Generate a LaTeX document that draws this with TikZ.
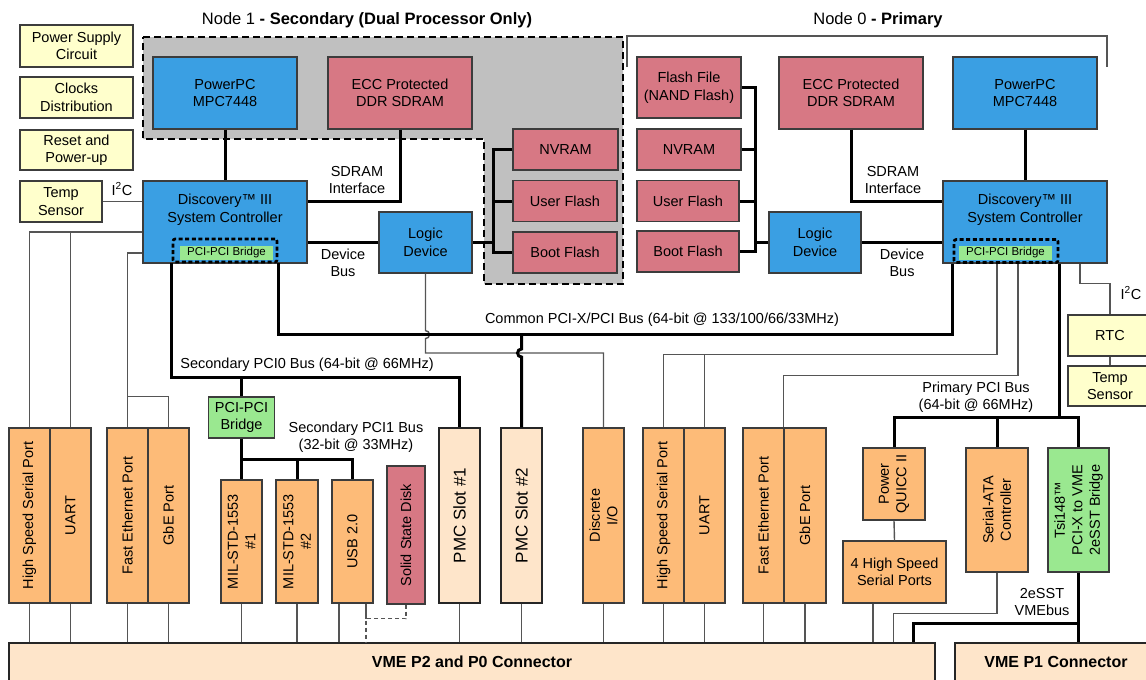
\documentclass[tikz,border=0pt]{standalone}
\usepackage{fontspec}
\setmainfont{Liberation Sans}
\usepackage{tikz}
\usetikzlibrary{
  positioning,
  calc
}
\definecolor{vbCPU}{HTML}{3A9FE3}
\definecolor{vbMem}{HTML}{D77884}
\definecolor{vbIO}{HTML}{FDBB78}
\definecolor{vbSlot}{HTML}{FEE5CA}
\definecolor{vbAux}{HTML}{FFFFCC}
\definecolor{vbBridge}{HTML}{9AE890}
\definecolor{vbZone}{HTML}{C0C0C0}
\definecolor{vbEdge}{HTML}{3C3C3C}
\definecolor{vbWire}{HTML}{555555}
\tikzset{
  vbnode/.style={
    draw=vbEdge, line width=1.2pt, inner sep=1pt, align=center,
    font=\fontsize{14.5}{17.5}\selectfont
  },
  cpu/.style={vbnode, fill=vbCPU, minimum width=144pt, minimum height=72pt},
  ctrl/.style={vbnode, fill=vbCPU, minimum width=164pt, minimum height=82pt},
  mem/.style={vbnode, fill=vbMem},
  aux/.style={vbnode, fill=vbAux},
  port/.style={vbnode, fill=vbIO},
  vport/.style={port, rotate=90, minimum width=175pt, minimum height=41pt},
  slot/.style={vbnode, fill=vbSlot, draw=black!85, rotate=90, minimum width=175pt,
    minimum height=41pt, font=\fontsize{17}{20}\selectfont},
  pcib/.style={vbnode, fill=vbBridge},
  bridgetag/.style={fill=vbBridge, inner sep=0pt, minimum width=93pt, minimum height=14pt,
    font=\fontsize{11.5}{14}\selectfont},
  bridgeframe/.style={draw=black, line width=2.6pt, dash pattern=on 4pt off 2.6pt,
    rounded corners=2pt, inner sep=0pt, minimum width=104pt, minimum height=23pt},
  vmeconn/.style={vbnode, fill=vbSlot, draw=black!85, minimum height=38pt,
    font=\bfseries\fontsize{16}{19}\selectfont},
  zone/.style={fill=vbZone, draw=black, line width=2.6pt, dash pattern=on 7pt off 4pt},
  title/.style={font=\fontsize{16.5}{20}\selectfont, inner sep=0pt},
  tag/.style={font=\fontsize{14.5}{17.5}\selectfont, align=center, inner sep=0pt},
  bus/.style={line width=3pt, black},
  wire/.style={line width=1.4pt, vbWire},
  optwire/.style={wire, dash pattern=on 4pt off 3pt}
}
\begin{document}
\begin{tikzpicture}[x=1pt, y=-1pt]
  \useasboundingbox (0,0) rectangle (1146,680);

  \draw[zone] (143,37) -- (623,37) -- (623,284) -- (484,284) -- (484,139) -- (143,139) -- cycle;
  \draw[wire] (627,67) |- (1107,36) -- (1107,67);
  \node[title] (ttlL) at (367,20) {Node 1 \textbf{- Secondary (Dual Processor Only)}};
  \node[title] (ttlR) at (878,20) {Node 0 \textbf{- Primary}};

  \node[aux, minimum width=113pt, minimum height=42pt] (psu) at (76.5,46) {Power Supply\\Circuit};
  \node[aux, minimum width=113pt, minimum height=41pt] (clk) at (76.5,97.5) {Clocks\\Distribution};
  \node[aux, minimum width=113pt, minimum height=40pt] (rst) at (76.5,150) {Reset and\\Power-up};
  \node[aux, minimum width=82pt, minimum height=41pt] (tempL) at (61,201.5) {Temp\\Sensor};

  \node[cpu] (ppcL) at (225,93) {PowerPC\\MPC7448};
  \node[mem, minimum width=144pt, minimum height=72pt] (eccL) at (400,93) {ECC Protected\\DDR SDRAM};
  \node[mem, minimum width=105pt, minimum height=41pt] (nvL) at (565.5,149.5) {NVRAM};
  \node[mem, minimum width=104pt, minimum height=41pt] (ufL) at (565,201) {User Flash};
  \node[mem, minimum width=104pt, minimum height=41pt] (bfL) at (565,252.5) {Boot Flash};
  \node[ctrl] (discL) at (225,222) {Discovery™ III\\System Controller\\[10pt]\mbox{}};
  \node[bridgeframe] (brfL) at (225,250.5) {};
  \node[bridgetag] (brL) at (226.5,253) {PCI-PCI Bridge};
  \node[cpu, minimum width=93pt, minimum height=61pt] (logL) at (425.5,242.5) {Logic\\Device};

  \node[mem, minimum width=104pt, minimum height=61pt] (nandR) at (689,87.5) {Flash File\\(NAND Flash)};
  \node[mem, minimum width=104pt, minimum height=41pt] (nvR) at (689,149.5) {NVRAM};
  \node[mem, minimum width=102pt, minimum height=41pt] (ufR) at (688,201) {User Flash};
  \node[mem, minimum width=102pt, minimum height=41pt] (bfR) at (688,251.5) {Boot Flash};
  \node[mem, minimum width=144pt, minimum height=72pt] (eccR) at (851,93) {ECC Protected\\DDR SDRAM};
  \node[cpu] (ppcR) at (1025,93) {PowerPC\\MPC7448};
  \node[cpu, minimum width=92pt, minimum height=61pt] (logR) at (815,242.5) {Logic\\Device};
  \node[ctrl] (discR) at (1025,222) {Discovery™ III\\System Controller\\[10pt]\mbox{}};
  \node[bridgeframe] (brfR) at (1006,251) {};
  \node[bridgetag] (brR) at (1005.5,253) {PCI-PCI Bridge};

  \node[tag] (sdrL) at (357,180) {SDRAM\\Interface};
  \node[tag] (dbL) at (343,263) {Device\\Bus};
  \node[tag] (sdrR) at (893,180) {SDRAM\\Interface};
  \node[tag] (dbR) at (902,263) {Device\\Bus};
  \node[tag] (i2cL) at (122,189) {I\textsuperscript{2}C};
  \node[tag] (i2cR) at (1131,293) {I\textsuperscript{2}C};
  \node[tag] (cbus) at (662,320) {Common PCI-X/PCI Bus (64-bit @ 133/100/66/33MHz)};
  \node[tag] (s0bus) at (307,365) {Secondary PCI0 Bus (64-bit @ 66MHz)};
  \node[tag] (s1bus) at (356,437) {Secondary PCI1 Bus\\(32-bit @ 33MHz)};
  \node[tag] (pbus) at (976,397) {Primary PCI Bus\\(64-bit @ 66MHz)};
  \node[tag] (vbus) at (1042,602) {2eSST\\VMEbus};

  \node[vport] (hssL) at (29.5,515.5) {High Speed Serial Port};
  \node[vport] (uartL) at (70.5,515.5) {UART};
  \node[vport] (feL) at (127.5,515.5) {Fast Ethernet Port};
  \node[vport] (gbeL) at (168.5,515.5) {GbE Port};
  \node[pcib, minimum width=66pt, minimum height=41pt] (pbr) at (241.5,417.5) {PCI-PCI\\Bridge};
  \node[port, rotate=90, minimum width=123pt, minimum height=41pt] (mil1) at (241.5,541.5) {MIL-STD-1553\\\#1};
  \node[port, rotate=90, minimum width=123pt, minimum height=42pt] (mil2) at (297,541.5) {MIL-STD-1553\\\#2};
  \node[port, rotate=90, minimum width=123pt, minimum height=41pt] (usb) at (352.5,541.5) {USB 2.0};
  \node[mem, rotate=90, minimum width=138pt, minimum height=38pt] (ssd) at (406,535) {Solid State Disk};
  \node[slot] (pmc1) at (459.5,515.5) {PMC Slot \#1};
  \node[slot] (pmc2) at (521.5,515.5) {PMC Slot \#2};
  \node[vport] (dio) at (603.5,515.5) {Discrete\\I/O};
  \node[vport] (hssR) at (663.5,515.5) {High Speed Serial Port};
  \node[vport] (uartR) at (704.5,515.5) {UART};
  \node[vport] (feR) at (763.5,515.5) {Fast Ethernet Port};
  \node[vport, minimum height=42pt] (gbeR) at (805,515.5) {GbE Port};
  \node[port, rotate=90, minimum width=72pt, minimum height=62pt] (pq) at (894,484) {Power\\QUICC II};
  \node[port, minimum width=103pt, minimum height=62pt] (hs4) at (894.5,572) {4 High Speed\\Serial Ports};
  \node[port, rotate=90, minimum width=124pt, minimum height=62pt] (sata) at (997,510) {Serial-ATA\\Controller};
  \node[pcib, rotate=90, minimum width=124pt, minimum height=61pt] (tsi) at (1078.5,510) {Tsi148™\\PCI-X to VME\\2eSST Bridge};
  \node[aux, minimum width=84pt, minimum height=41pt] (rtc) at (1110,335.5) {RTC};
  \node[aux, minimum width=84pt, minimum height=40pt] (tempR) at (1110,386) {Temp\\Sensor};
  \node[vmeconn, minimum width=926pt] (vme2) at (472,662) {VME P2 and P0 Connector};
  \node[vmeconn, minimum width=202pt] (vme1) at (1056,662) {VME P1 Connector};

  \coordinate (fbL) at (493,0);
  \coordinate (fbR) at (755,0);
  \coordinate (cpci) at (0,334);
  \coordinate (dbus) at (0,353);
  \coordinate (s0) at (0,377);
  \coordinate (s1) at (0,459);
  \coordinate (ppci) at (0,417);

  \draw[bus] (ppcL) -- (discL);
  \draw[bus] (eccL.south) |- (discL.east |- tempL.east);
  \draw[bus] (logL.west) -- (logL.west -| discL.east);
  \draw[bus] (nvL.west) -- (nvL.west -| fbL) |- (bfL.west);
  \draw[bus] (ufL.west) -- (ufL.west -| fbL);
  \draw[bus] (logL.east) -- (logL.east -| fbL);
  \draw[wire] (tempL.east) -- (tempL.east -| discL.west);

  \draw[bus] (ppcR) -- (discR);
  \draw[bus] (eccR.south) |- (discR.west |- ufR.east);
  \draw[bus] (logR.east) -- (logR.east -| discR.west);
  \draw[bus] (nandR.east) -- (nandR.east -| fbR) |- (bfR.east);
  \draw[bus] (nvR.east) -- (nvR.east -| fbR);
  \draw[bus] (ufR.east) -- (ufR.east -| fbR);
  \draw[bus] (logR.west) -- (logR.west -| fbR);

  \draw[wire] (logL.south) -- ++(0,57) arc[start angle=90, end angle=-90, radius=4pt]
    -- (logL.south |- dbus) -| (dio.east);
  \draw[bus] (brfL.south east) |- (brfR.south west |- cpci) -- (brfR.south west);
  \draw[bus] (pmc2.east |- cpci) -- ++(0,15) arc[start angle=90, end angle=270, radius=4pt]
    -- (pmc2.east);
  \draw[bus] (brfL.south west) |- (pmc1.east |- s0) -- (pmc1.east);
  \draw[bus] (pbr.north) -- (pbr.north |- s0);
  \draw[bus] (pbr.south) -- (mil1.east);
  \draw[bus] (mil1.east |- s1) -| (usb.east);
  \draw[bus] (mil2.east) -- (mil2.east |- s1);

  \draw[wire] ([yshift=-10pt]discL.west) coordinate (serL) -| (hssL.east);
  \draw[wire] (uartL.east) -- (uartL.east |- serL);
  \draw[wire] ([yshift=-31pt]discL.west) -| (feL.east);
  \draw[wire] (gbeL.east) |- ([yshift=31pt]feL.east);

  \draw[wire] ([xshift=-28pt]discR.south) |- ([yshift=73pt]hssR.east) -- (hssR.east);
  \draw[wire] (uartR.east) -- ++(0,-73);
  \draw[wire] ([xshift=-7pt]discR.south) |- ([yshift=52pt]gbeR.north east) -- (gbeR.north east);
  \draw[wire] ([xshift=55pt]discR.south) -- ++(0,20) -| (rtc.north);
  \draw[wire] (rtc) -- (tempR);

  \draw[bus] (brfR.south east) -- (brfR.south east |- ppci);
  \draw[bus] (pq.east) |- (tsi.east |- ppci) -- (tsi.east);
  \draw[bus] (sata.east) -- (sata.east |- ppci);
  \draw[wire] (pq.west) -- (hs4.north);

  \draw[wire] (hssL.west) -- (hssL.west |- vme2.north);
  \draw[wire] (uartL.west) -- (uartL.west |- vme2.north);
  \draw[wire] (feL.west) -- (feL.west |- vme2.north);
  \draw[wire] (gbeL.west) -- (gbeL.west |- vme2.north);
  \draw[wire] (mil1.west) -- (mil1.west |- vme2.north);
  \draw[wire] (mil2.west) -- (mil2.west |- vme2.north);
  \draw[wire] ([xshift=-13.5pt]usb.west) -- ([xshift=-13.5pt]usb.west |- vme2.north);
  \draw[wire] ([xshift=13.5pt]usb.west) -- ++(0,15) coordinate (ssdj);
  \draw[optwire] (ssd.west) |- (ssdj) -- (ssdj |- vme2.north);
  \draw[wire] (pmc1.west) -- (pmc1.west |- vme2.north);
  \draw[wire] (pmc2.west) -- (pmc2.west |- vme2.north);
  \draw[wire] (dio.west) -- (dio.west |- vme2.north);
  \draw[wire] (hssR.west) -- (hssR.west |- vme2.north);
  \draw[wire] (uartR.west) -- (uartR.west |- vme2.north);
  \draw[wire] (feR.west) -- (feR.west |- vme2.north);
  \draw[wire] (gbeR.west) -- (gbeR.west |- vme2.north);
  \draw[wire] ([xshift=-21.5pt]hs4.south) -- ([xshift=-21.5pt]hs4.south |- vme2.north);
  \draw[wire] (sata.west) -- ++(0,41) -| ([xshift=-42pt]vme2.north east);
  \draw[bus] (tsi.west) -- (tsi.west |- vme1.north);
  \draw[bus] (tsi.west) ++(0,51) -| ([xshift=-22pt]vme2.north east);
\end{tikzpicture}
\end{document}
